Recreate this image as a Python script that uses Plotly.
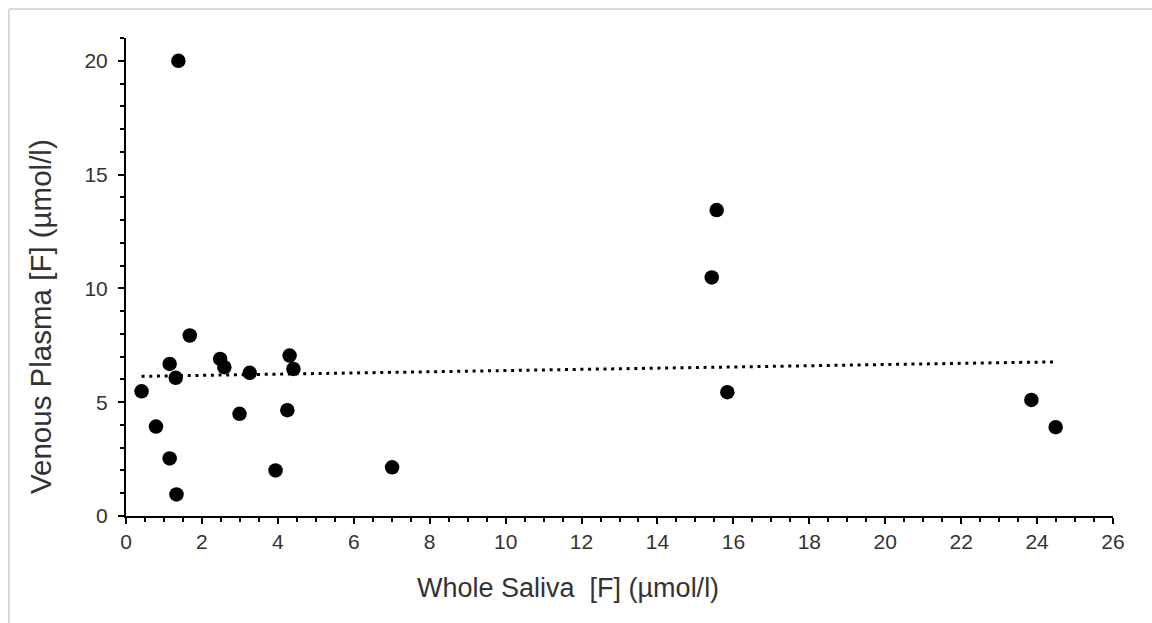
import numpy as np
import plotly.graph_objects as go

# Fluoride concentrations (µmol/l): whole saliva vs venous plasma
saliva_f = [0.41, 0.79, 1.15, 1.31, 1.15, 1.33, 1.38, 1.68, 2.48, 2.59, 2.99,
            3.26, 3.94, 4.25, 4.31, 4.41, 7.01, 15.43, 15.56, 15.84, 23.85, 24.49]
plasma_f = [5.48, 3.93, 6.68, 6.07, 2.53, 0.95, 20.0, 7.93, 6.90, 6.54, 4.49,
            6.29, 2.00, 4.65, 7.05, 6.46, 2.14, 10.48, 13.44, 5.44, 5.10, 3.90]

x_ticks = list(range(0, 27, 2))
y_ticks = [0, 5, 10, 15, 20]

# Linear least-squares trend over the observed saliva range
slope, intercept = np.polyfit(saliva_f, plasma_f, 1)
trend_x = [min(saliva_f), max(saliva_f)]
trend_y = [slope * v + intercept for v in trend_x]

W, H = 1152, 623
ML, MR, MT, MB = 126, 39, 38, 107
PW, PH = W - ML - MR, H - MT - MB


def px_x(p):
    return (p - ML) / PW


def px_y(p):
    return (H - MB - p) / PH


fig = go.Figure()
fig.add_trace(go.Scatter(
    x=trend_x, y=trend_y, mode="lines",
    line=dict(color="black", width=3, dash="3px,4.7px"),
    hoverinfo="skip", showlegend=False,
))
fig.add_trace(go.Scatter(
    x=saliva_f, y=plasma_f, mode="markers",
    marker=dict(color="black", size=14.5, line=dict(width=0)),
    showlegend=False,
))

tick_font = dict(family="Liberation Sans, Arial, sans-serif", size=21, color="#333333")
x_title_font = dict(family="Liberation Sans, Arial, sans-serif", size=27, color="#333333")
y_title_font = dict(family="Liberation Sans, Arial, sans-serif", size=29.5, color="#333333")

fig.update_xaxes(
    range=[0, 26], tickvals=x_ticks, ticktext=[str(v) for v in x_ticks],
    showgrid=False, zeroline=False, showline=True, linecolor="black", linewidth=2,
    ticks="outside", ticklen=6, tickwidth=2, tickcolor="black",
    minor=dict(dtick=0.5, ticks="outside", ticklen=4, tickwidth=1.5, tickcolor="black", showgrid=False),
    tickfont=tick_font,
)
fig.update_yaxes(
    range=[0, 21], tickvals=y_ticks, ticktext=[str(v) for v in y_ticks],
    showgrid=False, zeroline=False, showline=True, linecolor="black", linewidth=2,
    ticks="outside", ticklen=6, tickwidth=2, tickcolor="black",
    minor=dict(dtick=1, ticks="outside", ticklen=4, tickwidth=1.5, tickcolor="black", showgrid=False),
    tickfont=tick_font, ticklabelstandoff=6,
)

fig.add_annotation(
    text="Whole Saliva\u00a0 [F] (µmol/l)", xref="paper", yref="paper",
    x=px_x(568), y=px_y(588), showarrow=False, font=x_title_font,
    xanchor="center", yanchor="middle",
)
fig.add_annotation(
    text="Venous Plasma [F] (µmol/l)", xref="paper", yref="paper",
    x=px_x(40), y=px_y(317), showarrow=False, font=y_title_font, textangle=-90,
    xanchor="center", yanchor="middle",
)

# Light frame around the chart area
frame = dict(type="line", xref="paper", yref="paper",
             line=dict(color="#d9d9d9", width=2), layer="below")
fig.add_shape(**frame, x0=px_x(9), x1=px_x(W + 10), y0=px_y(9), y1=px_y(9))
fig.add_shape(**frame, x0=px_x(9), x1=px_x(9), y0=px_y(9), y1=px_y(H + 10))

fig.update_layout(
    width=W, height=H,
    margin=dict(l=ML, r=MR, t=MT, b=MB),
    paper_bgcolor="white", plot_bgcolor="white",
)

fig.write_html("out.html")
